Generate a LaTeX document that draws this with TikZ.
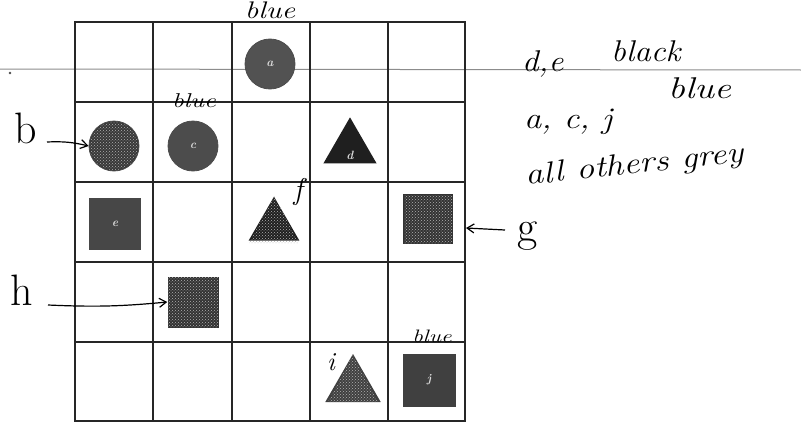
\documentclass[tikz,border=0pt]{standalone}
\usetikzlibrary{patterns,shapes.geometric,arrows.meta}
\begin{document}
\begin{tikzpicture}[x=1pt,y=-1pt,
  gridline/.style={line width=2.4pt,black!85},
  hand/.style={font=\itshape\fontsize{30}{32}\selectfont,inner sep=0pt},
  inlabel/.style={font=\itshape\bfseries\fontsize{12}{12}\selectfont,text=white!85!black},
  harrow/.style={line width=1.2pt,-{Straight Barb[length=7pt,width=9pt]}},
  disc/.style={circle,minimum size=50pt,inner sep=0pt,draw=black!70,line width=0.8pt},
  tri/.style={isosceles triangle,isosceles triangle apex angle=60,shape border rotate=90,minimum height=46pt,inner sep=0pt},
  sq/.style={rectangle,minimum size=52pt,inner sep=0pt},
  speck/.style={pattern=crosshatch dots,pattern color=white!70!black}]
\useasboundingbox (0,0) rectangle (801,423);
\fill[white] (0,0) rectangle (801,423);
% paper line
\draw[black!45,line width=1pt] (0,69) -- (801,70);
\fill[black!70] (10,73) circle (1.3pt);
% grid
\foreach \x in {75,153,232,310,388,465} \draw[gridline] (\x,21) -- (\x,422);
\foreach \y in {22,102,182,262,342,421} \draw[gridline] (74,\y) -- (466,\y);
% shapes
\node[disc,fill=black!68] (a) at (270,64) {};
\node[inlabel] at (a) {a};
\node[disc,fill=black!78] (b) at (114,146) {};
\fill[speck] (114,146) circle (24pt);
\node[disc,fill=black!70] (c) at (193,146) {};
\node[inlabel] at (c) {c};
\node[tri,fill=black!88] (d) at (350,148) {};
\node[inlabel] at (350,155) {d};
\node[sq,fill=black!72] (e) at (115,224) {};
\node[inlabel] at (e) {e};
\node[tri,fill=black!88,minimum height=44pt] (f) at (274,226) {};
\fill[speck] (274,196) -- (299,243) -- (249,243) -- cycle;
\node[sq,fill=black!80,minimum size=50pt] (g) at (428,219) {};
\fill[speck] (404,195) rectangle (452,243);
\node[sq,fill=black!80,minimum size=51pt] (h) at (193,302) {};
\fill[speck] (168,277) rectangle (218,327);
\node[tri,fill=black!75,minimum height=48pt] (i) at (353,386) {};
\fill[speck] (353,355) -- (378,402) -- (328,402) -- cycle;
\node[sq,fill=black!75,minimum size=53pt] (j) at (429,380) {};
\node[inlabel] at (j) {j};
% handwritten annotations
\node[hand] (blueA) at (270,10) {\scalebox{1.25}[1]{\fontsize{24}{26}\selectfont blue}};
\node[hand] (blueC) at (194,101) {\scalebox{1.3}[1]{\fontsize{20}{22}\selectfont blue}};
\node[hand] (blueJ) at (432,336) {\scalebox{1.3}[1]{\fontsize{18}{20}\selectfont blue}};
\node[hand,font=\fontsize{44}{46}\selectfont] (lb) at (26,128) {b};
\node[hand,font=\fontsize{44}{46}\selectfont] (lh) at (22,290) {h};
\node[hand,font=\fontsize{44}{46}\selectfont] (lg) at (528,236) {g};
\node[hand] (lf) at (298,192) {f};
\node[hand,font=\itshape\fontsize{26}{28}\selectfont] (li) at (331,362) {i};
\coordinate (bs) at (47,142);
\coordinate (hs) at (48,305);
\coordinate (gs) at (505,230);
\draw[harrow] (bs) to[bend left=8] (b.west);
\draw[harrow] (hs) to[bend right=4] (h.west);
\draw[harrow] (gs) -- (466,228);
% legend
\node[hand,anchor=base west] (de) at (522,71) {\scalebox{1.1}[1]{d,e}};
\node[hand,anchor=base west] (black) at (611,61) {\scalebox{1.1}[1]{black}};
\node[hand,anchor=base west] (blue) at (668,98) {\scalebox{1.25}[1]{blue}};
\node[hand,anchor=base west] (acj) at (524,128) {\scalebox{1.15}[1]{a, c, j}};
\node[hand,rotate=6,anchor=base west] (others) at (526,185) {\scalebox{1.2}[1]{all others grey}};
\end{tikzpicture}
\end{document}
